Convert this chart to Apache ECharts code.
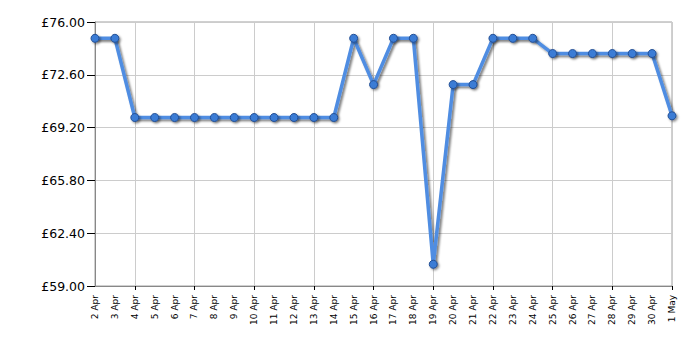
<!DOCTYPE html>
<html>
<head>
<meta charset="utf-8">
<script src="https://cdn.jsdelivr.net/npm/echarts@6/dist/echarts.min.js"></script>
<style>html,body{margin:0;padding:0;background:#fff}#c{width:700px;height:350px}</style>
</head>
<body>
<div id="c"></div>
<script>
var categories = ['2 Apr','3 Apr','4 Apr','5 Apr','6 Apr','7 Apr','8 Apr','9 Apr','10 Apr','11 Apr','12 Apr','13 Apr','14 Apr','15 Apr','16 Apr','17 Apr','18 Apr','19 Apr','20 Apr','21 Apr','22 Apr','23 Apr','24 Apr','25 Apr','26 Apr','27 Apr','28 Apr','29 Apr','30 Apr','1 May'];
var prices = [74.95,74.95,69.85,69.85,69.85,69.85,69.85,69.85,69.85,69.85,69.85,69.85,69.85,74.95,71.97,74.95,74.95,60.40,71.97,71.97,74.95,74.95,74.95,73.97,73.97,73.97,73.97,73.97,73.97,69.96];
var yTicks = [59.00, 62.40, 65.80, 69.20, 72.60, 76.00];

var chart = echarts.init(document.getElementById('c'), null, {renderer: 'svg'});
var step = yTicks[1] - yTicks[0];
function every3(idx) { return idx % 3 === 2; }
chart.setOption({
  animation: false,
  grid: {left: 95, right: 28, top: 22, bottom: 64, show: true, borderColor: '#a0a0a0', borderWidth: 1, backgroundColor: 'transparent'},
  xAxis: [{
    type: 'category',
    data: categories,
    boundaryGap: false,
    axisLine: {lineStyle: {color: '#888', width: 1}},
    axisTick: {show: true, interval: every3, length: 4, lineStyle: {color: '#000'}},
    splitLine: {show: true, interval: every3, lineStyle: {color: '#cccccc', width: 1}},
    axisLabel: {show: true, interval: 0, rotate: 90, fontSize: 9, fontFamily: 'DejaVu Sans', color: '#000', margin: 9}
  }],
  yAxis: [{
    type: 'value',
    min: yTicks[0],
    max: yTicks[yTicks.length - 1],
    interval: step,
    axisLine: {show: true, lineStyle: {color: '#888', width: 1}},
    axisTick: {show: true, length: 8, lineStyle: {color: '#000'}},
    splitLine: {show: true, lineStyle: {color: '#cccccc', width: 1}},
    axisLabel: {fontSize: 12.5, fontFamily: 'DejaVu Sans', color: '#000', margin: 10,
      formatter: function (v) { return '£' + v.toFixed(2); }}
  }],
  series: [{
    type: 'line',
    data: prices,
    symbol: 'circle',
    symbolSize: 8,
    lineStyle: {color: '#4f8de2', width: 3.5, shadowColor: 'rgba(0,0,0,0.5)', shadowBlur: 2, shadowOffsetX: 2, shadowOffsetY: 2},
    itemStyle: {color: '#3a7bd5', borderColor: '#234f94', borderWidth: 1, shadowColor: 'rgba(0,0,0,0.45)', shadowBlur: 2, shadowOffsetX: 1.5, shadowOffsetY: 1.5},
    z: 5
  }]
});
</script>
</body>
</html>
